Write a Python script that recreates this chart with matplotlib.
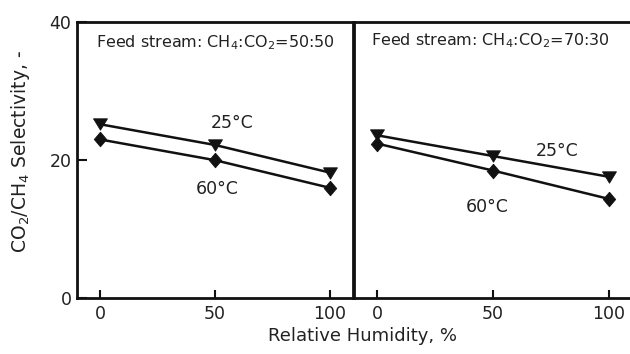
import matplotlib
matplotlib.use("Agg")
import matplotlib.pyplot as plt

plt.rcParams['font.family'] = ['DejaVu Sans']
plt.rcParams['mathtext.default'] = 'regular'

humidity = [0, 50, 100]

# selectivity, feed 50:50
sel_5050_25C = [25.2, 22.2, 18.2]
sel_5050_60C = [23.0, 20.0, 16.0]

# selectivity, feed 70:30
sel_7030_25C = [23.6, 20.6, 17.6]
sel_7030_60C = [22.4, 18.5, 14.4]

panel_titles = ['Feed stream: CH$_4$:CO$_2$=50:50', 'Feed stream: CH$_4$:CO$_2$=70:30']
ink = '#111111'
txt = '#222222'

# slightly flattened down-triangle and slightly tall diamond
tri_down = [(-1, 0.82), (1, 0.82), (0, -0.82), (-1, 0.82)]
diamond = [(0, 1), (0.85, 0), (0, -1), (-0.85, 0), (0, 1)]

fig = plt.figure(figsize=(6.3, 3.54), dpi=100)
ax1 = fig.add_axes([77 / 630, 0.157, 276 / 630, 0.781])
ax2 = fig.add_axes([354 / 630, 0.157, 278 / 630, 0.781])

panels = [
    (ax1, sel_5050_25C, sel_5050_60C, panel_titles[0], (57.6, 25.4), (51, 15.9), (0.069, 0.926)),
    (ax2, sel_7030_25C, sel_7030_60C, panel_titles[1], (77.7, 21.4), (47.3, 13.2), (0.062, 0.933)),
]

for ax, s25, s60, title, pos25, pos60, tpos in panels:
    ax.plot(humidity, s25, color=ink, lw=1.8, marker=tri_down, ms=10, mew=0.6, zorder=3)
    ax.plot(humidity, s60, color=ink, lw=1.8, marker=diamond, ms=10.5, mew=0.6, zorder=3)
    ax.text(pos25[0], pos25[1], '25°C', fontsize=12.5, ha='center', va='center', color=txt)
    ax.text(pos60[0], pos60[1], '60°C', fontsize=12.5, ha='center', va='center', color=txt)
    ax.text(tpos[0], tpos[1], title, transform=ax.transAxes, fontsize=11.5,
            ha='left', va='center', color=txt)
    ax.set_xlim(-10, 110)
    ax.set_ylim(0, 40)
    ax.set_xticks([0, 50, 100])
    ax.tick_params(axis='both', direction='in', length=6, width=1.5, color=ink,
                   labelsize=12.5, labelcolor=txt, pad=5)
    for sp in ax.spines.values():
        sp.set_linewidth(2)
        sp.set_color(ink)

ax1.set_yticks([0, 20, 40])
ax1.tick_params(axis='y', length=7, pad=4)
ax2.set_yticks([])
ax2.spines['right'].set_visible(False)

fig.text(0.032, 0.573, 'CO$_2$/CH$_4$ Selectivity, -', rotation=90, fontsize=13.5,
         ha='center', va='center', color=txt)
fig.text(0.576, 0.051, 'Relative Humidity, %', fontsize=13,
         ha='center', va='center', color=txt)

fig.savefig('out.png', dpi=100)
